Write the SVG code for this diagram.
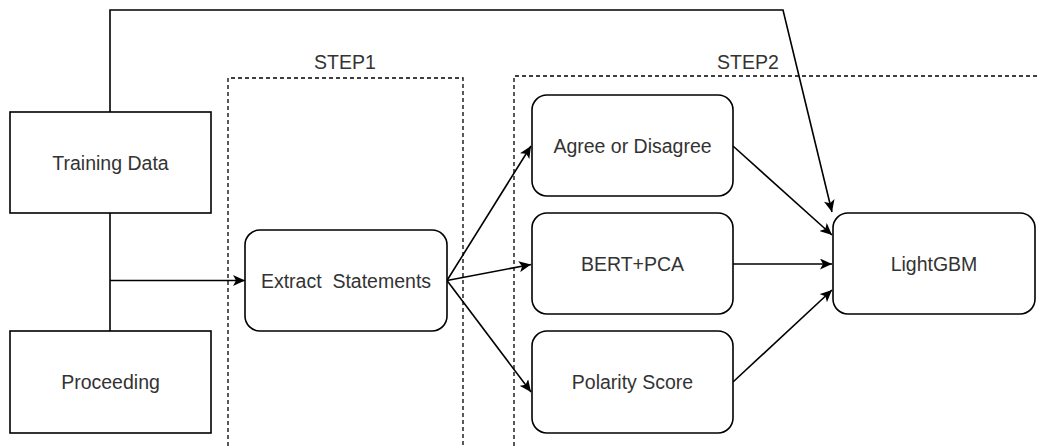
<svg xmlns="http://www.w3.org/2000/svg" width="1040" height="448" viewBox="0 0 1040 448">
  <defs>
    <marker id="arrow" markerUnits="userSpaceOnUse" markerWidth="13" markerHeight="11" refX="12" refY="5.5" orient="auto">
      <path d="M0,0 L12,5.5 L0,11 L3,5.5 z" fill="#000"/>
    </marker>
    <style>
      .box { fill: #fff; stroke: #000; stroke-width: 1.6; }
      .group { fill: none; stroke: #000; stroke-width: 1.3; stroke-dasharray: 4 3; }
      .label { font-family: "Liberation Sans", Arial, sans-serif; font-size: 19.5px; fill: #333; text-anchor: middle; }
      .edge { fill: none; stroke: #000; stroke-width: 1.6; }
      .arrow { marker-end: url(#arrow); }
    </style>
  </defs>
  <rect width="1040" height="448" fill="#fff"/>

  <!-- stage containers -->
  <g id="step1">
    <path class="group" d="M228,460 V78 H463 V460"/>
    <text class="label" x="345" y="69">STEP1</text>
  </g>
  <g id="step2">
    <path class="group" d="M514,460 V76 H1050"/>
    <text class="label" x="748" y="69">STEP2</text>
  </g>

  <!-- connectors -->
  <g id="connectors">
    <path class="edge arrow" d="M110,112 V10 H783 L832,212"/>
    <path class="edge" d="M110,213 V331"/>
    <path class="edge arrow" d="M110,280.5 H245"/>
    <path class="edge arrow" d="M447,280.5 L531,146"/>
    <path class="edge arrow" d="M447,280.5 L531,264.5"/>
    <path class="edge arrow" d="M447,280.5 L531,392"/>
    <path class="edge arrow" d="M733,146 L832,235"/>
    <path class="edge arrow" d="M733,264 H832"/>
    <path class="edge arrow" d="M733,382 L832,290"/>
  </g>

  <g id="training-data">
    <rect class="box" x="10" y="112" width="201" height="101"/>
    <text class="label" x="110.5" y="169.5">Training Data</text>
  </g>
  <g id="proceeding">
    <rect class="box" x="10" y="331" width="201" height="102"/>
    <text class="label" x="110.5" y="389">Proceeding</text>
  </g>
  <g id="extract-statements">
    <rect class="box" x="245" y="230" width="202" height="101" rx="15"/>
    <text class="label" x="346" y="287.5" xml:space="preserve">Extract  Statements</text>
  </g>
  <g id="agree-or-disagree">
    <rect class="box" x="532" y="95" width="201" height="101" rx="15"/>
    <text class="label" x="632.5" y="152.5">Agree or Disagree</text>
  </g>
  <g id="bert-pca">
    <rect class="box" x="532" y="213" width="201" height="101" rx="15"/>
    <text class="label" x="632.5" y="270.5">BERT+PCA</text>
  </g>
  <g id="polarity-score">
    <rect class="box" x="532" y="331" width="201" height="102" rx="15"/>
    <text class="label" x="632.5" y="389">Polarity Score</text>
  </g>
  <g id="lightgbm">
    <rect class="box" x="833" y="213" width="202" height="101" rx="15"/>
    <text class="label" x="934" y="270.5">LightGBM</text>
  </g>
</svg>
